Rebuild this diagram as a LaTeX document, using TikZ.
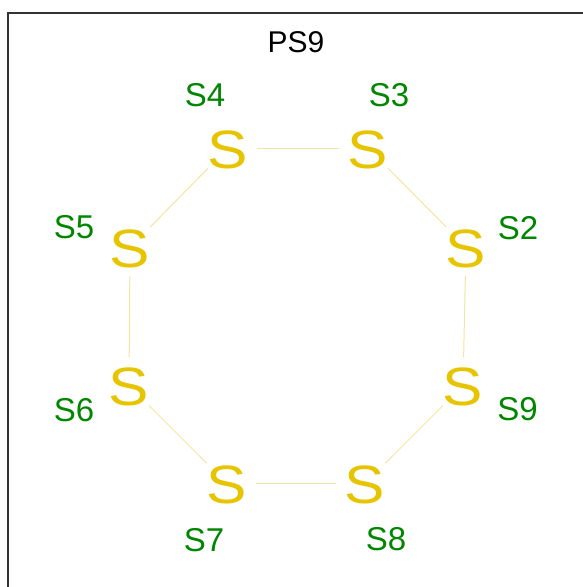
\documentclass[tikz,border=0pt]{standalone}
\usepackage{fontspec}
\setmainfont{Liberation Sans}
\definecolor{sulfur}{RGB}{230,196,0}
\definecolor{lblgreen}{RGB}{0,134,0}
\definecolor{bondcol}{RGB}{243,228,160}
\definecolor{framecol}{RGB}{50,50,50}
\begin{document}
\begin{tikzpicture}[x=1pt,y=-1pt,
  atom/.style={circle, minimum size=56pt, inner sep=0pt, text height=40pt, text depth=0pt,
    text=sulfur, font=\fontsize{54}{54}\selectfont},
  lbl/.style={inner sep=0pt, text height=24pt, text depth=0pt, text=lblgreen,
    font=\fontsize{33}{33}\selectfont},
  ttl/.style={inner sep=0pt, text height=22pt, text depth=0pt, text=black,
    font=\fontsize{30}{30}\selectfont},
  bond/.style={draw=bondcol, line width=1pt}]
\useasboundingbox (0,0) rectangle (583,587);
\draw[framecol, line width=1.3pt] (8,587) -- (8,13) -- (583,13);
\node[ttl] (title) at (296,41.5) {PS9};
\newcommand{\Sglyph}{\scalebox{1.12}[1]{S}}
\node[atom] (s4) at (228,148) {\Sglyph};
\node[atom] (s3) at (368,148) {\Sglyph};
\node[atom] (s2) at (466,247) {\Sglyph};
\node[atom] (s9) at (463,385.5) {\Sglyph};
\node[atom] (s8) at (365,483.5) {\Sglyph};
\node[atom] (s7) at (227,483.5) {\Sglyph};
\node[atom] (s6) at (129,385.5) {\Sglyph};
\node[atom] (s5) at (130,247.5) {\Sglyph};
\node[lbl] (l4) at (205,94) {S4};
\node[lbl] (l3) at (389,94) {S3};
\node[lbl] (l2) at (518,227.5) {S2};
\node[lbl] (l9) at (517.5,408.5) {S9};
\node[lbl] (l8) at (386,538) {S8};
\node[lbl] (l7) at (204,539) {S7};
\node[lbl] (l6) at (74,409) {S6};
\node[lbl] (l5) at (74,226) {S5};
\draw[bond] (s4) -- (s3);
\draw[bond] (s3) -- (s2);
\draw[bond] (s2) -- (s9);
\draw[bond] (s9) -- (s8);
\draw[bond] (s8) -- (s7);
\draw[bond] (s7) -- (s6);
\draw[bond] (s6) -- (s5);
\draw[bond] (s5) -- (s4);
\end{tikzpicture}
\end{document}
